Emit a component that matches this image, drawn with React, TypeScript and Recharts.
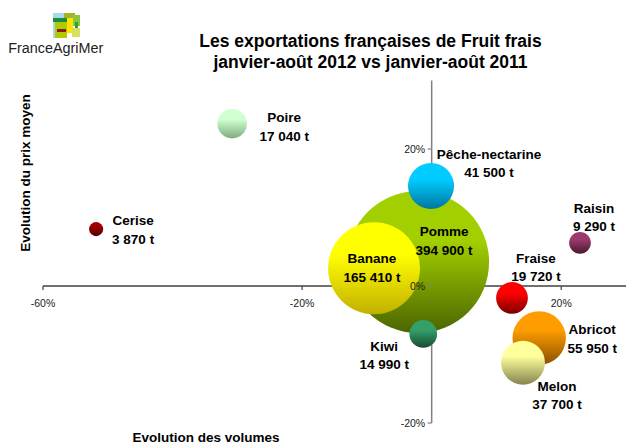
import React from 'react';
import {
  ScatterChart,
  Scatter,
  XAxis,
  YAxis,
  ZAxis,
  ReferenceLine,
} from 'recharts';

// ---- Data ----
const fruits = ['Pomme', 'Banane', 'Abricot', 'Pêche-nectarine', 'Melon', 'Fraise', 'Poire', 'Kiwi', 'Raisin', 'Cerise'];
const volumeChange = [-0.021, -0.089, 0.166, -0.001, 0.141, 0.124, -0.308, -0.013, 0.229, -0.518];
const priceChange = [0.035, 0.026, -0.076, 0.146, -0.112, -0.0175, 0.237, -0.07, 0.063, 0.083];
const tonnes = [394900, 165410, 55950, 41500, 37700, 19720, 17040, 14990, 9290, 3870];

const xTicks = [-0.6, -0.2, 0.2];
const yTicks = [-0.2, 0, 0.2];

const title1 = 'Les exportations françaises de Fruit frais';
const title2 = 'janvier-août 2012 vs janvier-août 2011';
const xTitle = 'Evolution des volumes';
const yTitle = 'Evolution du prix moyen';

// ---- Styles ----
const FONT = '"Liberation Sans", Arial, Helvetica, sans-serif';
const W = 626;
const H = 446;
const MAX_R = 71;

const bubbleColors: Record<string, [string, string]> = {
  Pomme: ['#a2cf00', '#4a6500'],
  Banane: ['#ffff00', '#c2b000'],
  Abricot: ['#ff9c00', '#8a5000'],
  'Pêche-nectarine': ['#00ccff', '#0077a0'],
  Melon: ['#ffff9c', '#84844e'],
  Fraise: ['#ff0000', '#780000'],
  Poire: ['#d0ffd0', '#80ac80'],
  Kiwi: ['#33a06a', '#1a4a33'],
  Raisin: ['#9c3a6c', '#4a1830'],
  Cerise: ['#9c0000', '#4a0000'],
};

const labelOffsets: Record<string, [number, number]> = {
  Pomme: [26, -26],
  Banane: [-2, -5],
  Abricot: [53, -4],
  'Pêche-nectarine': [58, -27],
  Melon: [34, 28],
  Fraise: [24, -35],
  Poire: [52, -1.5],
  Kiwi: [-39, 17],
  Raisin: [14, -30],
  Cerise: [37, -4],
};

const formatTonnes = (n: number) => n.toString().replace(/\B(?=(\d{3})+(?!\d))/g, ' ') + ' t';
const formatPct = (v: number) => `${Math.round(v * 100)}%`;

const data = fruits.map((name, i) => ({
  name,
  x: volumeChange[i],
  y: priceChange[i],
  z: tonnes[i],
  label: formatTonnes(tonnes[i]),
}));

const xTickData = xTicks.map((t) => ({ x: t, y: 0, z: 1, label: formatPct(t) }));
const yTickData = yTicks.map((t) => ({ x: 0, y: t, z: 1, label: formatPct(t) }));

const idOf = (name: string) => 'g' + name.replace(/[^a-zA-Z]/g, '');

const Bubble = (props: any) => {
  const { cx, cy, payload } = props;
  const size = props.size != null ? props.size : Math.PI * Math.pow((props.width || 0) / 2, 2);
  const r = Math.sqrt(Math.max(size, 0) / Math.PI);
  const [c1, c2] = bubbleColors[payload.name] || ['#888', '#444'];
  const id = idOf(payload.name);
  return (
    <g>
      <defs>
        <linearGradient id={id} x1="0" y1="0" x2="0" y2="1">
          <stop offset="0%" stopColor={c1} />
          <stop offset="35%" stopColor={c1} />
          <stop offset="100%" stopColor={c2} />
        </linearGradient>
      </defs>
      <circle cx={cx} cy={cy} r={r} fill={`url(#${id})`} />
    </g>
  );
};

const BubbleLabel = (props: any) => {
  const { cx, cy, payload } = props;
  const [dx, dy] = labelOffsets[payload.name] || [0, 0];
  return (
    <g>
      <text x={cx + dx} y={cy + dy} textAnchor="middle" fontFamily={FONT} fontWeight="bold" fontSize={13.5} fill="#000">
        {payload.name}
      </text>
      <text x={cx + dx} y={cy + dy + 18.5} textAnchor="middle" fontFamily={FONT} fontWeight="bold" fontSize={13.5} fill="#000">
        {payload.label}
      </text>
    </g>
  );
};

const XTick = (props: any) => {
  const { cx, cy, payload } = props;
  return (
    <g>
      <line x1={cx} y1={cy} x2={cx} y2={cy + 4} stroke="#404040" strokeWidth={1.2} />
      <text x={cx} y={cy + 20.5} textAnchor="middle" fontFamily={FONT} fontSize={10.5} fill="#222">
        {payload.label}
      </text>
    </g>
  );
};

const YTick = (props: any) => {
  const { cx, cy, payload } = props;
  return (
    <g>
      <line x1={cx - 4} y1={cy} x2={cx} y2={cy} stroke="#808080" strokeWidth={1.2} />
      <text x={cx - 6.5} y={cy + 3.8} textAnchor="end" fontFamily={FONT} fontSize={10.5} fill="#1a1a1a">
        {payload.label}
      </text>
    </g>
  );
};

const Logo = () => (
  <g>
    <rect x={53} y={13} width={14} height={25} fill="#a8d8f0" />
    <rect x={64} y={13} width={11} height={6} fill="#a0b428" />
    <rect x={72} y={15} width={8} height={11} fill="#8cc63f" />
    <rect x={53} y={18} width={19} height={4} fill="#1a8c3c" />
    <rect x={55} y={22} width={12} height={16} fill="#b2c800" />
    <rect x={67} y={18} width={6} height={15} fill="#ffe400" />
    <rect x={75} y={22} width={3} height={6} fill="#2e9e3e" />
    <rect x={72} y={28} width={8} height={9} fill="#d8e060" />
    <rect x={57} y={29} width={9} height={3} fill="#8b1c1c" />
    <text x={8.3} y={53} fontFamily={FONT} fontSize={15.5} fill="#222" textLength={95} lengthAdjust="spacingAndGlyphs">
      FranceAgriMer
    </text>
  </g>
);

export default function App() {
  return (
    <div style={{ position: 'absolute', left: 0, top: 0, width: W, height: H, background: '#fff' }}>
      <ScatterChart width={W} height={H} margin={{ top: 80.5, right: 0, bottom: 23, left: 43 }}>
        <XAxis type="number" dataKey="x" domain={[-0.6, 0.3]} hide />
        <YAxis type="number" dataKey="y" domain={[-0.2, 0.3]} hide />
        <ZAxis type="number" dataKey="z" domain={[0, tonnes[0]]} range={[0, Math.PI * MAX_R * MAX_R]} />
        <ReferenceLine y={0} stroke="#404040" strokeWidth={1.3} ifOverflow="visible" />
        <ReferenceLine x={0} stroke="#808080" strokeWidth={1.5} ifOverflow="visible" />
        <Scatter data={data} shape={Bubble} isAnimationActive={false} />
        <Scatter data={data} shape={BubbleLabel} isAnimationActive={false} />
        <Scatter data={xTickData} shape={XTick} isAnimationActive={false} />
        <Scatter data={yTickData} shape={YTick} isAnimationActive={false} />
      </ScatterChart>
      <svg
        width={W}
        height={H}
        style={{ position: 'absolute', left: 0, top: 0, pointerEvents: 'none' }}
      >
        <Logo />
        <text x={370.5} y={47} textAnchor="middle" fontFamily={FONT} fontWeight="bold" fontSize={17.5} fill="#000">
          {title1}
        </text>
        <text x={370.5} y={68} textAnchor="middle" fontFamily={FONT} fontWeight="bold" fontSize={17.5} fill="#000">
          {title2}
        </text>
        <text
          transform="translate(29.5,173) rotate(-90)"
          textAnchor="middle"
          fontFamily={FONT}
          fontWeight="bold"
          fontSize={13.5}
          fill="#000"
        >
          {yTitle}
        </text>
        <text x={206} y={442} textAnchor="middle" fontFamily={FONT} fontWeight="bold" fontSize={13.5} fill="#000">
          {xTitle}
        </text>
      </svg>
    </div>
  );
}
